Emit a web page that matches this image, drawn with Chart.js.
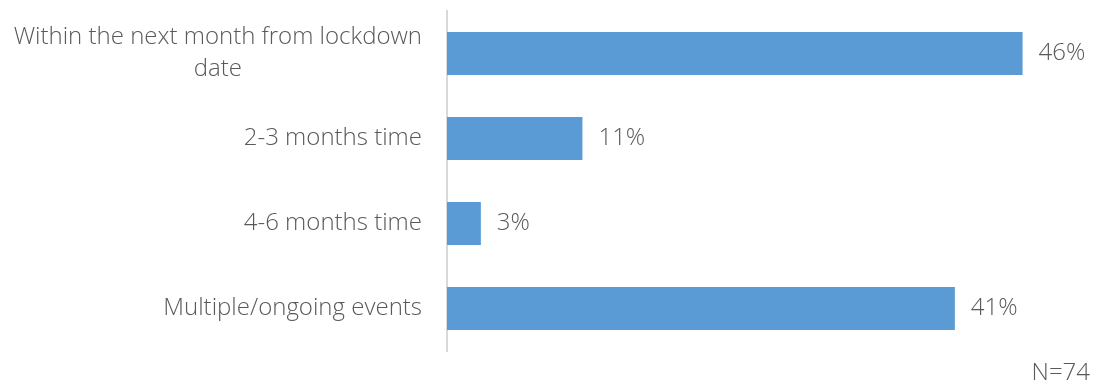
<!DOCTYPE html>
<html>
<head>
<meta charset="utf-8">
<script src="https://cdn.jsdelivr.net/npm/chart.js@4"></script>
<style>
  html, body { margin: 0; padding: 0; background: #fff; }
  #wrap { width: 1097px; height: 385px; position: relative; }
</style>
</head>
<body>
<div id="wrap"><canvas id="timingChart"></canvas></div>
<script>
// Categories (multi-line where the original wraps)
const categories = [
    ['Within the next month from lockdown', 'date'],
    '2-3 months time',
    '4-6 months time',
    'Multiple/ongoing events'
];
// Share of respondents, percent (N=74)
const shares = [45.9, 10.8, 2.7, 40.5];
const sampleNote = 'N=74';

const FONT = "'Open Sans', 'Noto Sans', sans-serif";
const TEXT_COLOR = '#595959';

// Draws category labels (right aligned, wrapped lines centred like Excel),
// value labels after each bar and the sample size note
const labelPlugin = {
    id: 'labels',
    afterDatasetsDraw(chart) {
        const ctx = chart.ctx;
        const yScale = chart.scales.y;
        const area = chart.chartArea;
        ctx.save();
        ctx.fillStyle = TEXT_COLOR;
        ctx.font = '300 24px ' + FONT;
        ctx.textBaseline = 'middle';

        // category labels
        const rightEdge = area.left - 25;
        const lineHeight = 32;
        categories.forEach((cat, i) => {
            const y = yScale.getPixelForTick(i);
            const lines = Array.isArray(cat) ? cat : [cat];
            const widest = Math.max(...lines.map(l => ctx.measureText(l).width));
            const cx = rightEdge - widest / 2;
            ctx.textAlign = 'center';
            lines.forEach((line, j) => {
                const ly = y + (j - (lines.length - 1) / 2) * lineHeight;
                ctx.fillText(line, cx, ly);
            });
        });

        // value labels
        ctx.textAlign = 'left';
        const meta = chart.getDatasetMeta(0);
        meta.data.forEach((bar, i) => {
            ctx.fillText(Math.round(shares[i]) + '%', bar.x + 16, bar.y);
        });

        // sample note
        ctx.textAlign = 'right';
        ctx.fillText(sampleNote, chart.width - 7, 373);
        ctx.restore();
    }
};

const ctxTiming = document.getElementById('timingChart').getContext('2d');
const timingChart = new Chart(ctxTiming, {
    type: 'bar',
    data: {
        labels: categories,
        datasets: [{
            data: shares,
            backgroundColor: '#5b9bd5',
            borderWidth: 0,
            barPercentage: 0.506,
            categoryPercentage: 1
        }]
    },
    options: {
        indexAxis: 'y',
        responsive: true,
        maintainAspectRatio: false,
        animation: false,
        layout: { padding: { top: 11, bottom: 34, right: 23, left: 0 } },
        plugins: {
            legend: { display: false },
            tooltip: { enabled: false }
        },
        scales: {
            x: {
                display: false,
                min: 0,
                max: 50
            },
            y: {
                ticks: { display: false },
                grid: { display: true, drawOnChartArea: false, drawTicks: false },
                border: { display: true, color: '#d9d9d9', width: 2 },
                afterFit: (scale) => { scale.width = 447; }
            }
        }
    },
    plugins: [labelPlugin]
});
</script>
</body>
</html>
